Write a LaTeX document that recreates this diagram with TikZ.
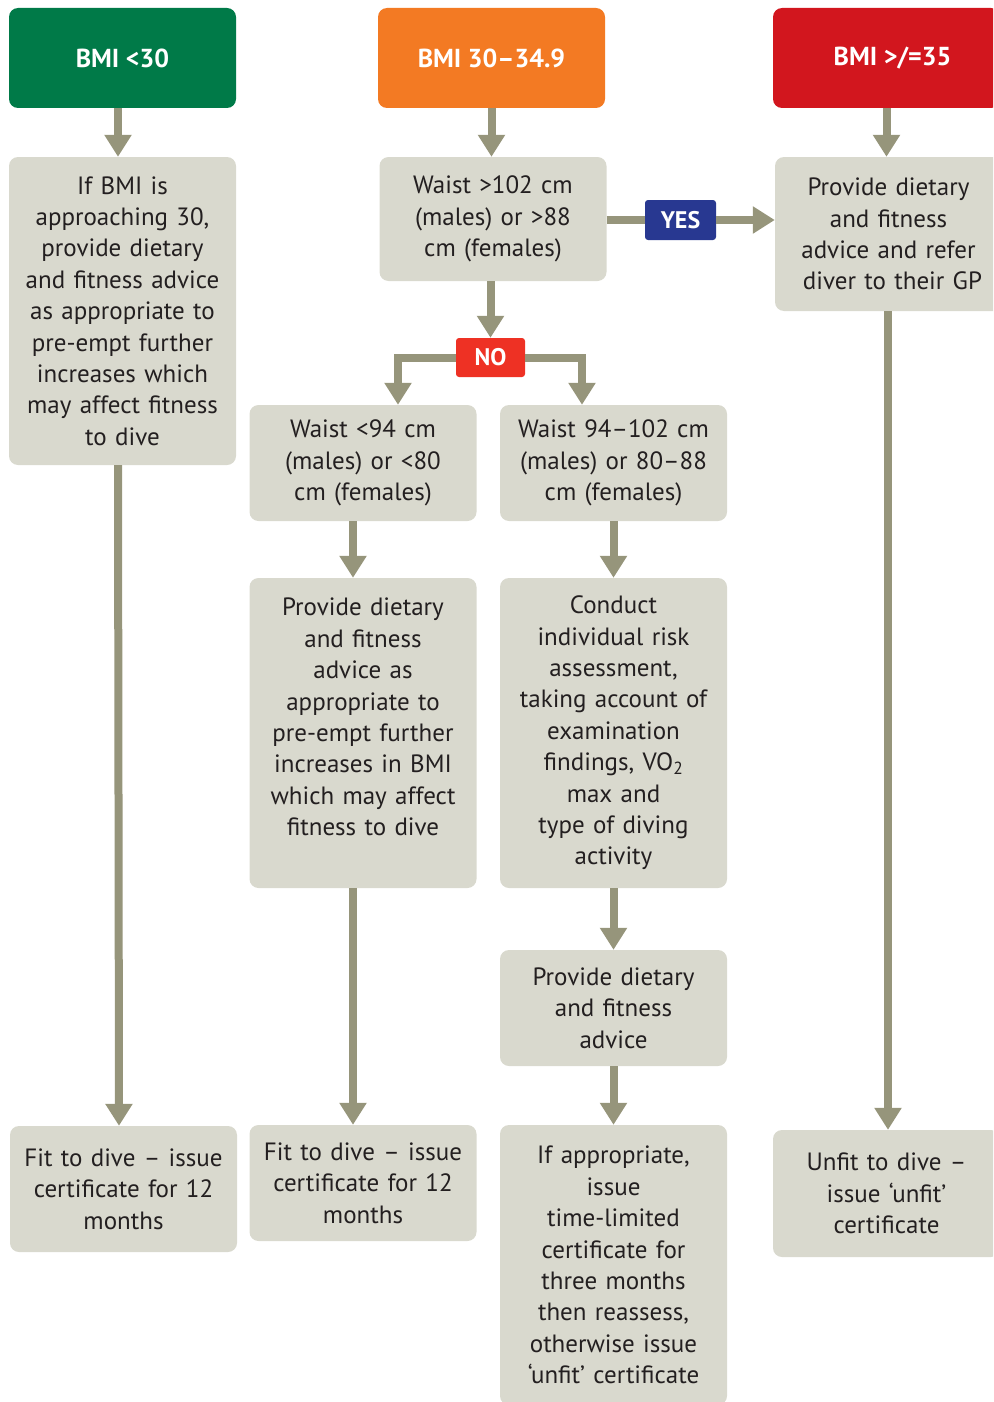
\documentclass[tikz,border=0pt]{standalone}
\usepackage{fontspec}
\setmainfont{PT Sans}
\usetikzlibrary{arrows.meta,positioning}
\definecolor{bmigreen}{HTML}{007A48}
\definecolor{bmiorange}{HTML}{F37A23}
\definecolor{bmired}{HTML}{D2161E}
\definecolor{boxgray}{HTML}{D9D9CE}
\definecolor{arrowgray}{HTML}{96957B}
\definecolor{yesblue}{HTML}{283891}
\definecolor{nored}{HTML}{EE3124}
\definecolor{ink}{HTML}{231F20}
\tikzset{x=1pt, y=-1pt,
  box/.style={fill=boxgray, rounded corners=9pt, text width=218pt, align=center, minimum width=227pt, inner sep=0pt, text=ink, font=\fontsize{25}{31.4}\selectfont},
  hdr/.style={rounded corners=9pt, minimum width=227pt, minimum height=100pt, text=white, font=\fontsize{26}{30}\selectfont\bfseries},
  tag/.style={rounded corners=3pt, text=white, inner sep=0pt, font=\fontsize{24}{28}\selectfont\bfseries},
  flow/.style={draw=arrowgray, line width=8pt, -{Triangle[width=26pt,length=22pt]}},
  link/.style={draw=arrowgray, line width=8pt}}

\begin{document}
\begin{tikzpicture}
  \useasboundingbox (0,0) rectangle (993,1402);
  \clip (0,0) rectangle (993,1402);
  \node[hdr, fill=bmigreen]  (hdrA) at (122.5,58) {BMI <30};
  \node[hdr, fill=bmiorange] (hdrB) at (491.5,58) {BMI 30–34.9};
  \node[hdr, fill=bmired]    (hdrC) at (886.5,58) {BMI >/=35\hspace*{-12pt}};

  \node[box, minimum height=308pt] (adv) at (122.5,311) {If BMI is\\approaching 30,\\provide dietary\\and fitness advice\\as appropriate to\\pre-empt further\\increases which\\may affect fitness\\to dive};
  \node[box, minimum height=124pt] (waist) at (493,219) {Waist >102 cm\\(males) or >88\\cm (females)};
  \node[box, minimum height=154pt] (refer) at (888.5,234) {Provide dietary\\and fitness\\advice and refer\\diver to their GP\hspace*{-8pt}};

  \node[tag, fill=yesblue, minimum width=71pt, minimum height=40pt] (yes) at (680.5,220) {YES};
  \node[tag, fill=nored, minimum width=69pt, minimum height=39pt] (no) at (490.5,357.5) {NO};

  \node[box, minimum height=116pt] (lowaist) at (363,463) {Waist <94 cm\\(males) or <80\\cm (females)};
  \node[box, minimum height=116pt] (midwaist) at (613.5,463) {Waist 94–102 cm\\(males) or 80–88\\cm (females)};
  \node[box, minimum height=310pt] (loadv) at (363,733) {Provide dietary\\and fitness\\advice as\\appropriate to\\pre-empt further\\increases in BMI\\which may affect\\fitness to dive\par\kern32pt};
  \node[box, minimum height=310pt] (risk) at (613.5,733) {Conduct\\individual risk\\assessment,\\taking account of\\examination\\findings, VO\textsubscript{2}\\max and\\type of diving\\activity};
  \node[box, minimum height=116pt] (midadv) at (613.5,1008) {Provide dietary\\and fitness\\advice};

  \node[box, minimum height=126pt] (fitA) at (123.5,1189) {Fit to dive – issue\\certificate for 12\\months};
  \node[box, minimum height=116pt] (fitB) at (363,1183) {Fit to dive – issue\\certificate for 12\\months};
  \node[box, minimum height=280pt] (limited) at (613.5,1265) {If appropriate,\\issue\\time-limited\\certificate for\\three months\\then reassess,\\otherwise issue\\‘unfit’ certificate};
  \node[box, minimum height=127pt] (unfit) at (886.5,1193.5) {Unfit to dive –\\issue ‘unfit’\\certificate};

  \draw[flow] ([xshift=-4.5pt]hdrA.south) -- ([xshift=-4.5pt]adv.north);
  \draw[flow] ([xshift=-4.5pt]adv.south) -- ([xshift=-4.5pt]fitA.north);
  \draw[flow] (hdrB.south) -- ([xshift=-1.5pt]waist.north);
  \draw[flow] (hdrC.south) -- ([xshift=-2pt]refer.north);
  \draw[flow] ([xshift=-2.5pt]waist.south) -- (no.north);
  \draw[link] (yes.west -| waist.east) -- (yes.west);
  \draw[flow] (yes.east) -- (yes.east -| refer.west);
  \draw[flow] (no.west) -| ([xshift=35pt]lowaist.north);
  \draw[flow] (no.east) -| ([xshift=-31.5pt]midwaist.north);
  \draw[flow] ([xshift=-10pt]lowaist.south) -- ([xshift=-10pt]loadv.north);
  \draw[flow] ([xshift=-10pt]loadv.south) -- ([xshift=-10pt]fitB.north);
  \draw[flow] (midwaist.south) -- (risk.north);
  \draw[flow] (risk.south) -- (midadv.north);
  \draw[flow] (midadv.south) -- (limited.north);
  \draw[flow] ([xshift=-0.5pt]refer.south) -- ([xshift=1.5pt]unfit.north);
\end{tikzpicture}
\end{document}
